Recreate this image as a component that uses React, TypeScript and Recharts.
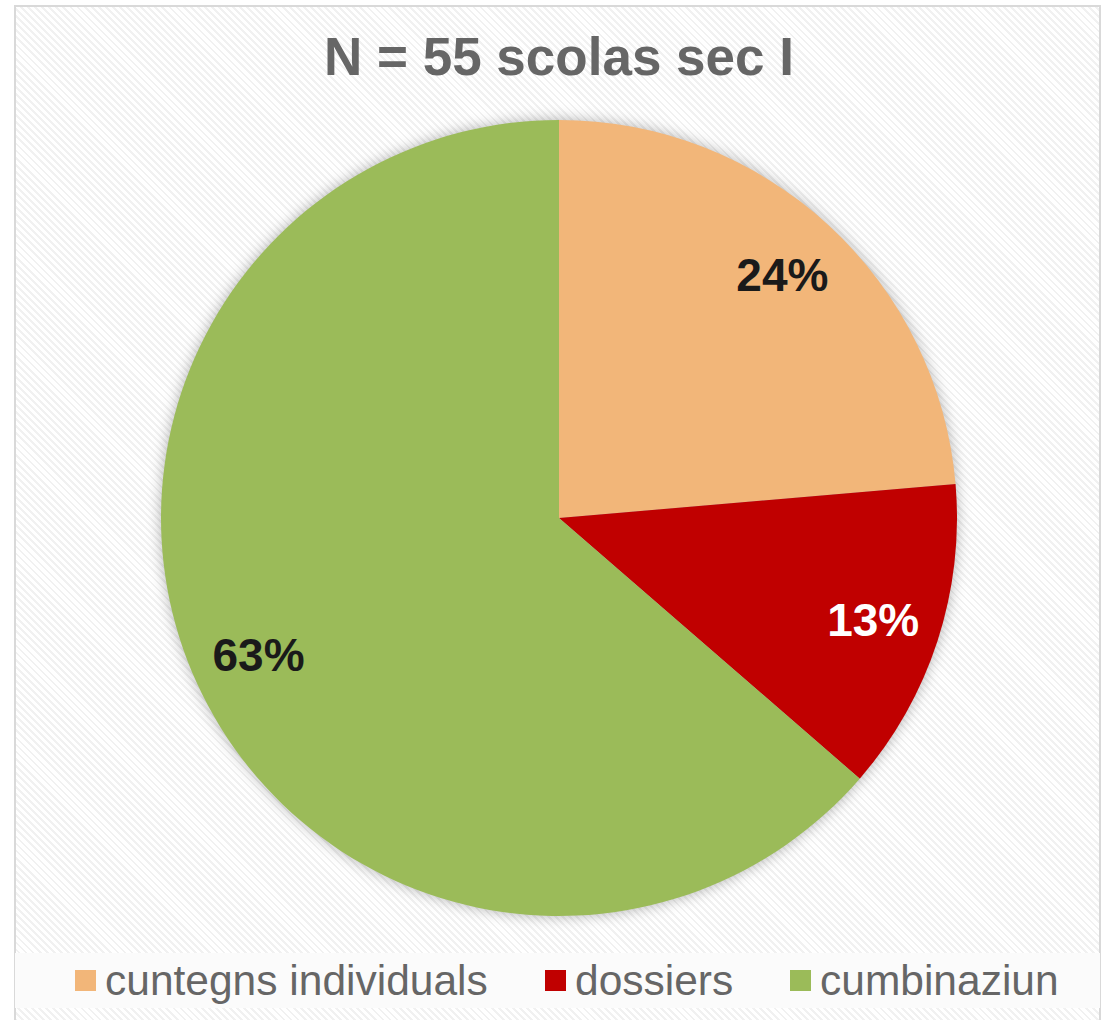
import { PieChart, Pie, Cell, Legend } from "recharts";

// counts out of N = 55 schools, and the percentages printed on the slices
const categories = ["cuntegns individuals", "dossiers", "cumbinaziun"];
const counts = [13, 7, 35];
const shownPercents = [24, 13, 63];
const colors = ["#f2b679", "#c00000", "#9bbb59"];
const labelColors = ["#1a1a1a", "#ffffff", "#1a1a1a"];

const data = categories.map((name, i) => ({ name, value: counts[i], pct: shownPercents[i] }));

const RADIAN = Math.PI / 180;

function renderLabel(props: any) {
  const { cx, cy, midAngle, outerRadius, index } = props;
  const r = outerRadius * 0.83;
  const x = cx + r * Math.cos(-midAngle * RADIAN);
  const y = cy + r * Math.sin(-midAngle * RADIAN);
  return (
    <text
      x={x}
      y={y}
      fill={labelColors[index]}
      textAnchor="middle"
      dominantBaseline="central"
      style={{ fontFamily: "Liberation Sans, Arial, sans-serif", fontWeight: 700, fontSize: 46 }}
    >
      {data[index].pct + "%"}
    </text>
  );
}

function LegendContent() {
  const lefts = [75, 545, 790];
  return (
    <div style={{ position: "relative", height: 55, background: "#fbfbfb" }}>
      {categories.map((c, i) => (
        <div
          key={c}
          style={{
            position: "absolute",
            left: lefts[i] - 15,
            top: 0,
            height: 55,
            display: "flex",
            alignItems: "center",
            fontFamily: "Liberation Sans, Arial, sans-serif",
            fontSize: 42.5,
            color: "#666666",
            whiteSpace: "nowrap",
          }}
        >
          <span style={{ display: "inline-block", width: 21, height: 21, background: colors[i], marginRight: 9 }} />
          {c}
        </div>
      ))}
    </div>
  );
}

export default function App() {
  return (
    <div
      style={{
        position: "absolute",
        left: 0,
        top: 0,
        width: 1109,
        height: 1020,
        background: "#ffffff",
        overflow: "hidden",
      }}
    >
      <style>{`.recharts-pie { filter: drop-shadow(0 0 7px rgba(0,0,0,0.3)); }`}</style>
      <div
        style={{
          position: "absolute",
          left: 14,
          top: 5,
          width: 1087,
          height: 1030,
          border: "2px solid #d9d9d9",
          boxSizing: "border-box",
          background:
            "repeating-linear-gradient(45deg, #ffffff 0px, #ffffff 3px, #f1f1f1 3px, #f1f1f1 5px)",
        }}
      />
      <div
        style={{
          position: "absolute",
          left: 0,
          width: 1118,
          top: 27,
          textAlign: "center",
          fontFamily: "Liberation Sans, Arial, sans-serif",
          fontWeight: 700,
          fontSize: 53,
          color: "#666666",
          lineHeight: "60px",
        }}
      >
        N = 55 scolas sec I
      </div>
      <div style={{ position: "absolute", left: 0, top: 0 }}>
        <PieChart width={1109} height={1020} margin={{ top: 0, right: 0, bottom: 0, left: 0 }}>
          <Pie
            data={data}
            dataKey="value"
            nameKey="name"
            cx={559}
            cy={518}
            outerRadius={398}
            startAngle={90}
            endAngle={-270}
            stroke="none"
            label={renderLabel}
            labelLine={false}
            isAnimationActive={false}
          >
            {data.map((d, i) => (
              <Cell key={d.name} fill={colors[i]} />
            ))}
          </Pie>
          <Legend
            content={<LegendContent />}
            wrapperStyle={{ position: "absolute", left: 15, top: 953, width: 1085 }}
          />
        </PieChart>
      </div>
    </div>
  );
}
